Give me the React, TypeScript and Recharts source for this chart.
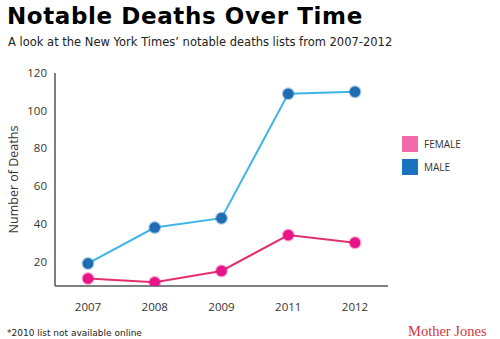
import React from 'react';
import { LineChart, Line, XAxis, YAxis } from 'recharts';

const years = ['2007', '2008', '2009', '2011', '2012'];
const femaleDeaths = [11, 9, 15, 34, 30];
const maleDeaths = [19, 38, 43, 109, 110];
const yTicks = [20, 40, 60, 80, 100, 120];

const data = years.map((year, i) => ({ year, female: femaleDeaths[i], male: maleDeaths[i] }));

const FONT = '"Open Sans", "DejaVu Sans", sans-serif';

const Dot = (color: string) => (props: any) => {
  const { cx, cy, index } = props;
  if (cx == null || cy == null) return null;
  return (
    <g key={`dot-${color}-${index}`}>
      <circle cx={cx} cy={cy} r={6.5} fill={color} opacity={0.35} />
      <circle cx={cx} cy={cy} r={5.3} fill={color} />
    </g>
  );
};

export default function App() {
  return (
    <div style={{ position: 'absolute', left: 0, top: 0, width: 500, height: 339, background: '#fff', fontFamily: FONT }}>
      <div style={{ position: 'absolute', left: 7, top: 3, fontFamily: '"DejaVu Sans", Verdana, sans-serif', fontWeight: 'bold', fontSize: 23, color: '#000', whiteSpace: 'nowrap', letterSpacing: 0.6 }}>
        Notable Deaths Over Time
      </div>
      <div style={{ position: 'absolute', left: 8, top: 35, fontFamily: '"DejaVu Sans", Verdana, sans-serif', fontSize: 11.5, color: '#222', whiteSpace: 'nowrap' }}>
        A look at the New York Times’ notable deaths lists from 2007-2012
      </div>

      <LineChart width={500} height={339} data={data} margin={{ top: 73, right: 112, bottom: 23, left: 0 }} style={{ position: 'absolute', left: 0, top: 0 }}>
        <XAxis
          dataKey="year"
          padding={{ left: 33, right: 33 }}
          tickLine={false}
          axisLine={{ stroke: '#555', strokeWidth: 1.5 }}
          tick={{ fill: '#333', fontSize: 11.5, fontFamily: FONT }}
          tickMargin={11}
          height={30}
        />
        <YAxis
          domain={[7, 120]}
          ticks={yTicks}
          allowDataOverflow
          tickLine={false}
          axisLine={{ stroke: '#555', strokeWidth: 1.5 }}
          tick={{ fill: '#333', fontSize: 11.5, fontFamily: FONT }}
          tickMargin={2}
          width={55}
          label={{ value: 'Number of Deaths', angle: -90, position: 'insideLeft', offset: 14, style: { fill: '#333', fontSize: 12.5, fontFamily: FONT, textAnchor: 'middle' } }}
        />
        <Line dataKey="male" stroke="#3db5e6" strokeWidth={2} dot={Dot('#1f6db3')} isAnimationActive={false} />
        <Line dataKey="female" stroke="#e2306f" strokeWidth={2} dot={Dot('#e8158a')} isAnimationActive={false} />
      </LineChart>

      <div style={{ position: 'absolute', left: 402, top: 136, width: 16, height: 16, background: '#f26aaa' }} />
      <div style={{ position: 'absolute', left: 424, top: 137, fontSize: 10, color: '#333' }}>FEMALE</div>
      <div style={{ position: 'absolute', left: 402, top: 159, width: 16, height: 16, background: '#1a72c0' }} />
      <div style={{ position: 'absolute', left: 424, top: 160, fontSize: 10, color: '#333' }}>MALE</div>

      <div style={{ position: 'absolute', left: 7, top: 328, fontFamily: '"DejaVu Sans", Verdana, sans-serif', fontSize: 9, color: '#222', whiteSpace: 'nowrap' }}>
        *2010 list not available online
      </div>
      <div style={{ position: 'absolute', left: 408, top: 323, fontFamily: '"Liberation Serif", "DejaVu Serif", serif', fontSize: 14.5, color: '#d0363c', whiteSpace: 'nowrap' }}>
        Mother Jones
      </div>
    </div>
  );
}
